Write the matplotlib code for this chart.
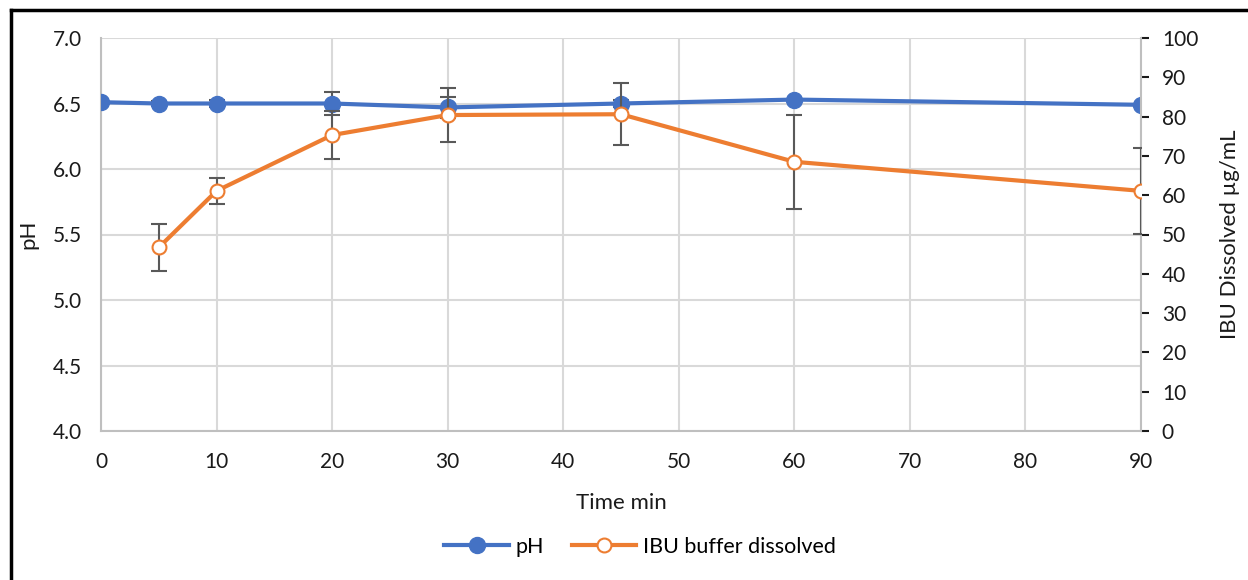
import numpy as np
import matplotlib
matplotlib.use("Agg")
import matplotlib.pyplot as plt
from matplotlib.lines import Line2D

plt.rcParams['font.family'] = ['Lato', 'DejaVu Sans']

time_min = [0, 5, 10, 20, 30, 45, 60, 90]
ph = [6.51, 6.50, 6.50, 6.50, 6.47, 6.50, 6.53, 6.49]
ph_err = [0.0, 0.02, 0.03, 0.09, 0.08, 0.03, 0.0, 0.0]

ibu_time = [5, 10, 20, 30, 45, 60, 90]
ibu = [46.7, 61.1, 75.3, 80.4, 80.6, 68.5, 61.1]
ibu_err = [5.9, 3.4, 6.1, 6.9, 7.9, 12.0, 11.0]

blue = '#4472C4'
orange = '#ED7D31'
grid_c = '#D9D9D9'
err_c = '#595959'
txt_c = '#1a1a1a'

fig = plt.figure(figsize=(12.48, 5.8), dpi=100)
ax = fig.add_axes([101 / 1248, 1 - 431 / 580, 1040 / 1248, 393 / 580])
ax2 = ax.twinx()

ax.set_xlim(0, 90)
ax.set_ylim(4.0, 7.0)
ax2.set_ylim(0, 100)
ax.set_xticks(np.arange(0, 91, 10))
ax.set_yticks(np.arange(4.0, 7.01, 0.5))
ax.set_yticklabels([f"{v:.1f}" for v in np.arange(4.0, 7.01, 0.5)])
ax2.set_yticks(np.arange(0, 101, 10))

ax.grid(True, color=grid_c, linewidth=1.5)
ax.set_axisbelow(True)
for s in ['top', 'right']:
    ax.spines[s].set_visible(False)
for s in ['top', 'left', 'bottom']:
    ax2.spines[s].set_visible(False)
for s in ['left', 'bottom']:
    ax.spines[s].set_color('#BFBFBF')
    ax.spines[s].set_linewidth(1.5)
ax2.spines['right'].set_color('#BFBFBF')
ax2.spines['right'].set_linewidth(1.5)

ax.tick_params(axis='y', length=0, labelsize=15, colors=txt_c, pad=14)
ax.tick_params(axis='x', length=0, labelsize=15, colors=txt_c, pad=15)
ax2.tick_params(axis='y', length=6, width=1.5, labelsize=15, colors=txt_c, pad=9)
for t in ax2.yaxis.get_ticklines():
    t.set_color('#BFBFBF')

# pH series
ax.errorbar(time_min, ph, yerr=ph_err, fmt='none', ecolor=err_c, elinewidth=1.5,
            capsize=6, capthick=1.5, zorder=3)
ax.plot(time_min, ph, color=blue, linewidth=3, marker='o', markersize=11.5,
        markerfacecolor=blue, markeredgecolor=blue, zorder=4, label='pH')

# IBU series
ax2.errorbar(ibu_time, ibu, yerr=ibu_err, fmt='none', ecolor=err_c, elinewidth=1.5,
             capsize=6, capthick=1.5, zorder=3)
ax2.plot(ibu_time, ibu, color=orange, linewidth=3, marker='o', markersize=10,
         markerfacecolor='white', markeredgecolor=orange, markeredgewidth=1.5,
         zorder=4, label='IBU buffer dissolved')

ax.set_xlabel('Time min', fontsize=16, color=txt_c, labelpad=15)
ax.set_ylabel('pH', fontsize=16, color=txt_c, labelpad=10)
ax2.set_ylabel('IBU Dissolved µg/mL', fontsize=16, color=txt_c, labelpad=16)

handles = [Line2D([], [], color=blue, linewidth=3, marker='o', markersize=11.5),
           Line2D([], [], color=orange, linewidth=3, marker='o', markersize=10,
                  markerfacecolor='white', markeredgecolor=orange, markeredgewidth=1.5)]
fig.legend(handles, ['pH', 'IBU buffer dissolved'], loc='center',
           bbox_to_anchor=(640 / 1248, 1 - 547 / 580), ncol=2, frameon=False,
           fontsize=15.5, handlelength=3, columnspacing=1.3, handletextpad=0.3)

# outer frame (left and top visible)
fig.add_artist(Line2D([11 / 1248, 11 / 1248], [0, 1 - 10 / 580], color='black',
                      linewidth=2.5, transform=fig.transFigure))
fig.add_artist(Line2D([11 / 1248, 1], [1 - 10 / 580, 1 - 10 / 580], color='black',
                      linewidth=2.5, transform=fig.transFigure))

fig.savefig('out.png', dpi=100)
